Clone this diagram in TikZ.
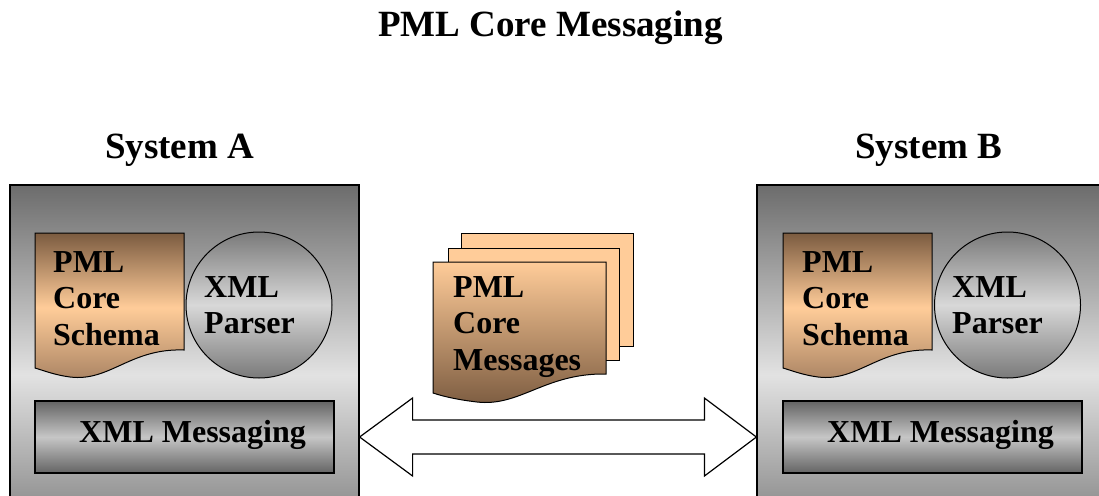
\documentclass[tikz,border=0pt]{standalone}
\usepackage{fontspec}
\setmainfont{Liberation Serif}
\usetikzlibrary{positioning,calc}

\definecolor{peach}{HTML}{FFCC99}
\definecolor{brdark}{HTML}{7B5B40}
\definecolor{brmid}{HTML}{A88262}
\definecolor{sysdark}{HTML}{6C6C6C}
\definecolor{syslight}{HTML}{E2E2E2}
\definecolor{cirdark}{HTML}{7A7A7A}
\definecolor{cirlight}{HTML}{D8D8D8}
\definecolor{msgdark}{HTML}{646464}
\definecolor{msglight}{HTML}{C6C6C6}

\begin{document}
\begin{tikzpicture}[x=1pt,y=-1pt]

\tikzset{sysbox/.style={draw, line width=1.2pt, minimum width=349pt, minimum height=380pt,
           top color=sysdark, bottom color=sysdark, middle color=syslight},
         msgbox/.style={draw, line width=1.2pt, minimum width=299pt, minimum height=72pt,
           top color=msgdark, bottom color=msgdark, middle color=msglight},
         parser/.style={draw, circle, line width=1pt, minimum size=146pt,
           top color=cirdark, bottom color=cirdark, middle color=cirlight},
         lbl/.style={inner sep=0pt, align=left, anchor=north west,
           font=\fontsize{32}{36.5}\selectfont\bfseries},
         msglbl/.style={inner sep=0pt, anchor=base west,
           font=\fontsize{32}{36.5}\selectfont\bfseries},
         head/.style={inner sep=0pt, anchor=base west,
           font=\fontsize{37}{40}\selectfont\bfseries},
         page/.style={draw, line width=1pt, fill=peach},
         dblarrow/.style={draw, line width=1.2pt, fill=white, line join=miter},
         schemadoc/.pic={
           \shade[draw, line width=1pt, top color=brdark, bottom color=brmid, middle color=peach]
             (0,0) -- (149,0) -- (149,117) .. controls (95,115) and (75,149) .. (35,144)
             .. controls (20,142) and (10,138) .. (0,135) -- cycle;
         }}

\useasboundingbox (0,0) rectangle (1099,495);
\clip (0,0) rectangle (1099,495);

% title and system names
\node[head] (title) at (378,37) {PML Core Messaging};
\node[head] (labA) at (105,158) {System A};
\node[head] (labB) at (855,158) {System B};

% system A
\node[sysbox] (sysA) at (184.5,375) {};
\pic at (35,233) {schemadoc};
\node[lbl] (schemaA) at (53,251) {PML\\Core\\Schema};
\node[parser] (parserA) at (259,305) {};
\node[lbl] (parsetxtA) at (204,276) {XML\\Parser};
\node[msgbox] (msgA) at (184.5,437) {};
\node[msglbl] (msgtxtA) at (79,442) {XML Messaging};

% system B
\node[sysbox] (sysB) at (931.5,375) {};
\pic at (783,233) {schemadoc};
\node[lbl] (schemaB) at (802,251) {PML\\Core\\Schema};
\node[parser] (parserB) at (1007.5,305) {};
\node[lbl] (parsetxtB) at (952,276) {XML\\Parser};
\node[msgbox] (msgB) at (932.5,437) {};
\node[msglbl] (msgtxtB) at (827,442) {XML Messaging};

% messages in between
\draw[page] (461,233) rectangle (633,346);
\draw[page] (448,248) rectangle (619,360);
\shade[draw, line width=1pt, top color=peach, bottom color=brdark]
  (433,262) -- (606,262) -- (606,374) .. controls (545,373) and (520,407) .. (477,402)
  .. controls (460,400) and (445,397) .. (433,393) -- cycle;
\node[lbl] (messages) at (453,276) {PML\\Core\\Messages};

% double arrow between the systems
\coordinate (tipL) at (sysA.east |- msgA.center);
\coordinate (tipR) at (sysB.west |- msgB.center);
\draw[dblarrow] (tipL) -- ++(53,-39) -- ++(0,22) -- ($(tipR)+(-52,-17)$) -- ++(0,-22)
  -- (tipR) -- ++(-52,39) -- ++(0,-22) -- ($(tipL)+(53,17)$) -- ++(0,22) -- cycle;

\end{tikzpicture}
\end{document}
